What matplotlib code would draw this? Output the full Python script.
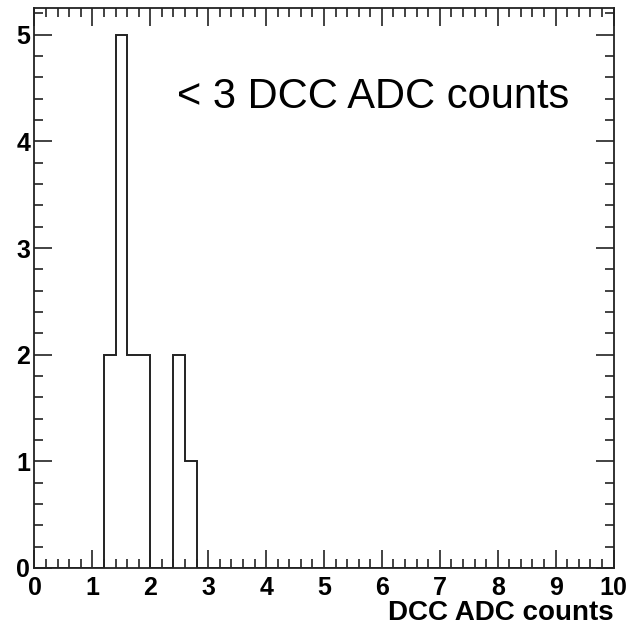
import numpy as np
import matplotlib.pyplot as plt
from matplotlib.ticker import MultipleLocator

plt.rcParams['font.family'] = ['Liberation Sans', 'DejaVu Sans']

# histogram: 50 bins of 0.2 between 0 and 10, only filled bins listed
x_min, x_max, n_bins = 0.0, 10.0, 50
filled_low = [1.2, 1.4, 1.6, 1.8, 2.4, 2.6]
filled_counts = [2, 5, 2, 2, 2, 1]

x_label = 'DCC ADC counts'
note = '< 3 DCC ADC counts'

edges = np.linspace(x_min, x_max, n_bins + 1)
counts = np.zeros(n_bins)
for lo, c in zip(filled_low, filled_counts):
    counts[int(round((lo - x_min) / (edges[1] - edges[0])))] = c

fig = plt.figure(figsize=(6.27, 6.32), dpi=100)
ax = fig.add_axes([0.055, 0.1013, 0.9235, 0.886])

ax.stairs(counts, edges, color='#222222', linewidth=1.4)

ax.set_xlim(x_min, x_max)
ax.set_ylim(0, max(filled_counts) * 1.05)

ax.xaxis.set_major_locator(MultipleLocator(1))
ax.xaxis.set_minor_locator(MultipleLocator(0.2))
ax.yaxis.set_major_locator(MultipleLocator(1))
ax.yaxis.set_minor_locator(MultipleLocator(0.2))

ax.tick_params(which='both', direction='in', top=True, right=True,
               width=1.2, color='#222222')
ax.tick_params(which='major', length=13)
ax.tick_params(which='minor', length=6.5)
ax.tick_params(axis='x', which='major', pad=6, labelsize=18)
ax.tick_params(axis='y', which='major', pad=3, labelsize=18)
for lab in ax.get_xticklabels() + ax.get_yticklabels():
    lab.set_fontweight('bold')

for sp in ax.spines.values():
    sp.set_linewidth(1.3)
    sp.set_color('#222222')

ax.set_xlabel(x_label, fontsize=20, fontweight='bold', loc='right', labelpad=0)

ax.text(2.46, 4.31, note, fontsize=30, ha='left', va='baseline')

fig.savefig('out.png', dpi=100)
